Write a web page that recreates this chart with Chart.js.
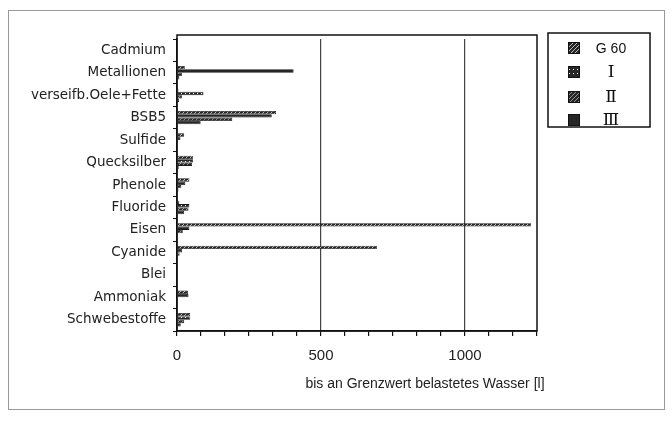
<!DOCTYPE html>
<html>
<head>
<meta charset="utf-8">
<script src="https://cdn.jsdelivr.net/npm/chart.js@4/dist/chart.umd.min.js"></script>
<style>
  html, body { margin: 0; padding: 0; background: #fff; }
  #wrap { width: 672px; height: 423px; position: relative; }
</style>
</head>
<body>
<div id="wrap"><canvas id="chart" width="672" height="423"></canvas></div>
<script>
// ============================================
// DATA
// ============================================
const categories = [
  'Cadmium', 'Metallionen', 'verseifb.Oele+Fette', 'BSB5', 'Sulfide',
  'Quecksilber', 'Phenole', 'Fluoride', 'Eisen', 'Cyanide', 'Blei',
  'Ammoniak', 'Schwebestoffe'
];
const seriesNames = ['G 60', 'Ⅰ', 'Ⅱ', 'Ⅲ'];
const g60 = [1, 27, 5, 344, 25, 55, 43, 8, 1230, 694, 0, 38, 46];
const s1 = [2, 405, 92, 329, 12, 56, 29, 43, 43, 18, 0, 40, 46];
const s2 = [3, 17, 17, 192, 4, 52, 15, 40, 20, 9, 0, 0, 25];
const s3 = [2, 8, 7, 82, 0, 6, 5, 25, 3, 2, 0, 0, 13];
const xTickLabels = [0, 500, 1000];
const xMax = 1250;
const axisTitle = 'bis an Grenzwert belastetes Wasser [l]';

// ============================================
// FILL PATTERNS (hatch, dots, solid)
// ============================================
function makePattern(kind) {
  const c = document.createElement('canvas');
  c.width = 4; c.height = 4;
  const g = c.getContext('2d');
  g.fillStyle = '#262626';
  g.fillRect(0, 0, 4, 4);
  if (kind === 'hatch') {
    g.strokeStyle = '#fff';
    g.lineWidth = 0.7;
    g.beginPath();
    g.moveTo(0, 4); g.lineTo(4, 0);
    g.stroke();
  } else if (kind === 'dots') {
    g.fillStyle = '#fff';
    g.fillRect(1, 1, 1, 1);
  } else if (kind === 'hatch2') {
    g.strokeStyle = '#ddd';
    g.lineWidth = 0.6;
    g.beginPath();
    g.moveTo(0, 4); g.lineTo(4, 0);
    g.stroke();
  }
  return g.createPattern(c, 'repeat');
}

const fills = [makePattern('hatch'), makePattern('dots'), makePattern('hatch2'), makePattern('solid')];
const seriesData = [g60, s1, s2, s3];

function isMajor(v) {
  const r = Math.round(v);
  return Math.abs(v - r) < 0.01 && xTickLabels.indexOf(r) !== -1;
}

// ============================================
// EXTRA DRAWING: frame, legend box, axis title
// ============================================
const decorPlugin = {
  id: 'decor',
  afterDraw(chart) {
    const ctx = chart.ctx;
    const a = chart.chartArea;
    ctx.save();
    // outer figure border
    ctx.strokeStyle = '#9a9a9a';
    ctx.lineWidth = 1;
    ctx.strokeRect(8.5, 10.5, 656, 399);
    // plot frame (top edge sits a little above the first category)
    ctx.strokeStyle = '#111';
    ctx.lineWidth = 1.5;
    ctx.strokeRect(a.left, 35, a.right - a.left, a.bottom - 35);
    // legend box
    ctx.strokeRect(548, 33, 102, 94);
    const rows = [48, 72, 97, 120];
    chart.data.datasets.forEach((ds, i) => {
      const y = rows[i];
      ctx.fillStyle = ds.backgroundColor;
      ctx.fillRect(568, y - 6, 12, 12);
      ctx.strokeStyle = '#111';
      ctx.lineWidth = 1;
      ctx.strokeRect(568.5, y - 5.5, 11, 11);
      ctx.fillStyle = '#111';
      ctx.textAlign = 'center';
      ctx.textBaseline = 'middle';
      ctx.font = i === 0 ? '14px "Liberation Sans", Arial, sans-serif' : '17px "DejaVu Serif", "Liberation Serif", serif';
      ctx.fillText(ds.label, 611, y + 1);
    });
    // x axis title
    ctx.fillStyle = '#222';
    ctx.font = '14px "Liberation Sans", Arial, sans-serif';
    ctx.textAlign = 'center';
    ctx.textBaseline = 'middle';
    ctx.fillText(axisTitle, 425, 384);
    ctx.restore();
  }
};

// ============================================
// CHART
// ============================================
const chartCtx = document.getElementById('chart').getContext('2d');
new Chart(chartCtx, {
  type: 'bar',
  data: {
    labels: categories,
    datasets: seriesNames.map((name, i) => ({
      label: name,
      data: seriesData[i],
      backgroundColor: fills[i],
      borderColor: '#1a1a1a',
      borderWidth: 0.8,
      categoryPercentage: 0.6,
      barPercentage: 1.0
    }))
  },
  options: {
    indexAxis: 'y',
    responsive: false,
    animation: false,
    layout: { padding: { top: 39, right: 135, left: 0, bottom: 0 } },
    plugins: {
      legend: { display: false },
      tooltip: { enabled: false }
    },
    scales: {
      x: {
        min: 0,
        max: xMax,
        afterFit: (scale) => { scale.height = 92; },
        ticks: {
          stepSize: 500 / 6,
          autoSkip: false,
          maxRotation: 0,
          padding: 11,
          color: '#222',
          font: { family: '"Liberation Sans", Arial, sans-serif', size: 15 },
          callback: (v) => isMajor(v) ? String(Math.round(v)) : ''
        },
        grid: {
          drawTicks: true,
          tickLength: 5,
          tickColor: '#111',
          lineWidth: 1.2,
          color: (c) => (c.tick && isMajor(c.tick.value) && c.tick.value > 1) ? '#444' : 'rgba(0,0,0,0)'
        },
        border: { display: true, color: '#111', width: 1.5 }
      },
      y: {
        afterFit: (scale) => { scale.width = 177; },
        ticks: {
          padding: 7,
          color: '#222',
          autoSkip: false,
          font: { family: '"DejaVu Sans", sans-serif', size: 13.5 }
        },
        grid: {
          drawOnChartArea: false,
          drawTicks: true,
          tickLength: 4,
          color: '#111'
        },
        border: { display: true, color: '#111', width: 1.5 }
      }
    }
  },
  plugins: [decorPlugin]
});
</script>
</body>
</html>
